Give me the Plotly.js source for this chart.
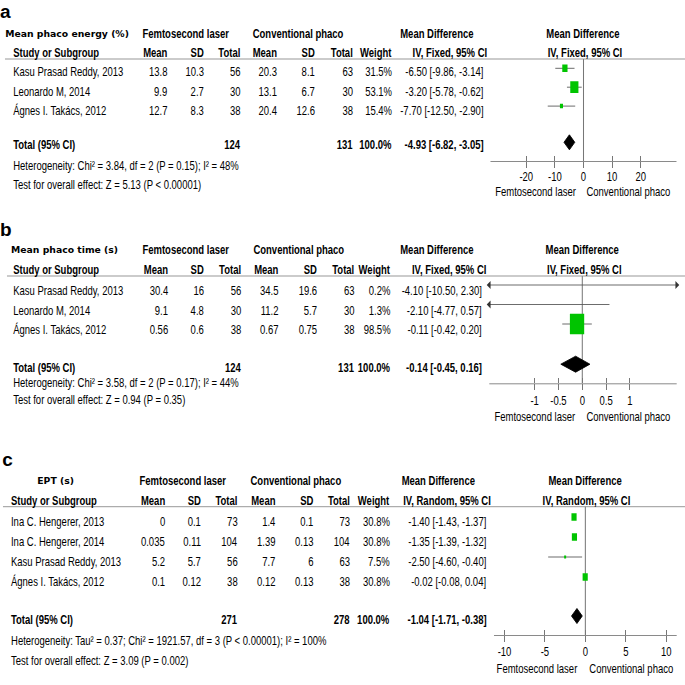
<!DOCTYPE html>
<html><head><meta charset="utf-8">
<script src="https://cdn.plot.ly/plotly-3.0.1.min.js"></script>
<style>
html,body{margin:0;padding:0;background:#fff;overflow:hidden;width:685px;height:685px}
#chart{width:938px;height:685px;transform:scaleX(0.730277);transform-origin:0 0}
</style>
</head><body><div id="chart"></div>
<script>
// ---------- DATA ----------
// Panel a: Mean phaco energy (%)
const studiesA = ['Kasu Prasad Reddy, 2013', 'Leonardo M, 2014', 'Ágnes I. Takács, 2012'];
const femMeanA = [13.8, 9.9, 12.7];
const femSdA = [10.3, 2.7, 8.3];
const femNA = [56, 30, 38];
const conMeanA = [20.3, 13.1, 20.4];
const conSdA = [8.1, 6.7, 12.6];
const conNA = [63, 30, 38];
const weightA = [31.5, 53.1, 15.4];
const mdA = [-6.50, -3.20, -7.70];
const loA = [-9.86, -5.78, -12.50];
const hiA = [-3.14, -0.62, -2.90];
const totalA = {fem: 124, con: 131, md: -4.93, lo: -6.82, hi: -3.05};
const hetA = 'Heterogeneity: Chi² = 3.84, df = 2 (P = 0.15); I² = 48%';
const testA = 'Test for overall effect: Z = 5.13 (P &lt; 0.00001)';
const tickValsA = [-20, -10, 0, 10, 20];
const tickTextA = ['-20', '-10', '0', '10', '20'];

// Panel b: Mean phaco time (s)
const studiesB = ['Kasu Prasad Reddy, 2013', 'Leonardo M, 2014', 'Ágnes I. Takács, 2012'];
const femMeanB = [30.4, 9.1, 0.56];
const femSdB = [16, 4.8, 0.6];
const femNB = [56, 30, 38];
const conMeanB = [34.5, 11.2, 0.67];
const conSdB = [19.6, 5.7, 0.75];
const conNB = [63, 30, 38];
const weightB = [0.2, 1.3, 98.5];
const mdB = [-4.10, -2.10, -0.11];
const loB = [-10.50, -4.77, -0.42];
const hiB = [2.30, 0.57, 0.20];
const totalB = {fem: 124, con: 131, md: -0.14, lo: -0.45, hi: 0.16};
const hetB = 'Heterogeneity: Chi² = 3.58, df = 2 (P = 0.17); I² = 44%';
const testB = 'Test for overall effect: Z = 0.94 (P = 0.35)';
const tickValsB = [-1, -0.5, 0, 0.5, 1];
const tickTextB = ['-1', '-0.5', '0', '0.5', '1'];

// Panel c: EPT (s)
const studiesC = ['Ina C. Hengerer, 2013', 'Ina C. Hengerer, 2014', 'Kasu Prasad Reddy, 2013', 'Ágnes I. Takács, 2012'];
const femMeanC = [0, 0.035, 5.2, 0.1];
const femSdC = [0.1, 0.11, 5.7, 0.12];
const femNC = [73, 104, 56, 38];
const conMeanC = [1.4, 1.39, 7.7, 0.12];
const conSdC = [0.1, 0.13, 6, 0.13];
const conNC = [73, 104, 63, 38];
const weightC = [30.8, 30.8, 7.5, 30.8];
const mdC = [-1.40, -1.35, -2.50, -0.02];
const loC = [-1.43, -1.39, -4.60, -0.08];
const hiC = [-1.37, -1.32, -0.40, 0.04];
const totalC = {fem: 271, con: 278, md: -1.04, lo: -1.71, hi: -0.38};
const hetC = 'Heterogeneity: Tau² = 0.37; Chi² = 1921.57, df = 3 (P &lt; 0.00001); I² = 100%';
const testC = 'Test for overall effect: Z = 3.09 (P = 0.002)';
const tickValsC = [-10, -5, 0, 5, 10];
const tickTextC = ['-10', '-5', '0', '5', '10'];

const colHeads = ['Mean', 'SD', 'Total', 'Mean', 'SD', 'Total'];

// ---------- LAYOUT HELPERS ----------
// Laid out 938px wide and compressed horizontally (CSS) to 685px, turning
// Liberation Sans into the condensed RevMan-like face of the reference.
const W = 685, H = 685, WD = 938, S = W / WD;
const NARROW = '"Liberation Sans", Arial, sans-serif';
const HEAD = '"DejaVu Sans", sans-serif';
const FS = 13;
const GREEN = '#00c400';
const GRAY = '#777';
const annotations = [], shapes = [], traces = [];
const wideIdx = new Set();
const px = x => x / W, py = y => 1 - y / H;
function txt(x, y, t, anchor, opts) {
  opts = opts || {};
  if (opts.wide) wideIdx.add(annotations.length);
  annotations.push({xref: 'paper', yref: 'paper', x: px(x), y: py(y), text: t, showarrow: false,
    xanchor: anchor, yanchor: 'middle', borderpad: 0, borderwidth: 0,
    font: {family: opts.family || NARROW, size: opts.size || FS, color: '#000'}});
}
const f2 = v => v.toFixed(2);
const ciTxt = (m, l, h) => f2(m) + ' [' + f2(l) + ', ' + f2(h) + ']';

const panels = [
  {letter: 'a', title: 'Mean phaco energy (%)', method: 'Fixed', studies: studiesA,
   cols: [femMeanA, femSdA, femNA, conMeanA, conSdA, conNA], weight: weightA, md: mdA, lo: loA, hi: hiA,
   total: totalA, het: hetA, test: testA, tickvals: tickValsA, ticktext: tickTextA,
   g: {letterX: 0, letterY: 12, titleX: 5, head1Y: 33.5, head2Y: 52, lineY: 59, lineX0: 5,
       nameX: 13, rowY: 72, step: 19, markY: 68.3, markStep: 18.9, totalY: 145, diaY: 142.3,
       hetY: 166, testY: 184, axisY: 161, dirY: 192, tickStand: -3,
       colX: [167, 204, 240, 277, 315, 353], wX: 392, ciX: 483.5, ciHX: 487,
       femC: 185.5, conC: 297.7, mdC: 436.7, plotC: 583, plotHC: 584.7, dirL: 535.5, dirR: 628.5,
       domain: [490.5, 676.5], range: [-32.5, 32.5], diaH: 15}},
  {letter: 'b', title: 'Mean phaco time (s)', method: 'Fixed', studies: studiesB,
   cols: [femMeanB, femSdB, femNB, conMeanB, conSdB, conNB], weight: weightB, md: mdB, lo: loB, hi: hiB,
   total: totalB, het: hetB, test: testB, tickvals: tickValsB, ticktext: tickTextB,
   g: {letterX: 0, letterY: 229, titleX: 11, head1Y: 249, head2Y: 269, lineY: 276, lineX0: 7,
       nameX: 13, rowY: 290.7, step: 19.3, markY: 285, markStep: 19.5, totalY: 367.7, diaY: 364.2,
       hetY: 382, testY: 400, axisY: 383.3, dirY: 416.5, tickStand: -1,
       colX: [168, 204, 240.7, 278, 316.7, 354], wX: 391, ciX: 482, ciHX: 486,
       femC: 186, conC: 299, mdC: 437, plotC: 582, plotHC: 584, dirL: 535, dirR: 628.3,
       domain: [489.3, 676.7], range: [-1.95, 1.98], diaH: 16}},
  {letter: 'c', title: 'EPT (s)', method: 'Random', studies: studiesC,
   cols: [femMeanC, femSdC, femNC, conMeanC, conSdC, conNC], weight: weightC, md: mdC, lo: loC, hi: hiC,
   total: totalC, het: hetC, test: testC, tickvals: tickValsC, ticktext: tickTextC,
   g: {letterX: 2, letterY: 459, titleX: 37, head1Y: 480, head2Y: 500, lineY: 506.7, lineX0: 3,
       nameX: 11, rowY: 521, step: 20, markY: 517, markStep: 20, totalY: 619.3, diaY: 616,
       hetY: 640.7, testY: 660, axisY: 635, dirY: 668, tickStand: -2,
       colX: [165, 201, 237, 275.3, 313.3, 350], wX: 390, ciX: 486, ciHX: 490.7,
       femC: 183, conC: 295.7, mdC: 438.3, plotC: 584.7, plotHC: 586.7, dirL: 537, dirR: 631,
       domain: [494, 676.7], range: [-11.3, 11.3], diaH: 15}}
];

const layout = {
  width: WD, height: H, margin: {l: 0, r: 0, t: 0, b: 0}, paper_bgcolor: '#fff', plot_bgcolor: 'rgba(0,0,0,0)',
  showlegend: false, hovermode: false,
  yaxis: {domain: [0, 1], range: [H, 0], visible: false, fixedrange: true}
};

panels.forEach((P, k) => {
  const g = P.g;
  const xa = k === 0 ? 'x' : 'x' + (k + 1);
  const xaOv = 'x' + (k + 4);
  const axKey = k === 0 ? 'xaxis' : 'xaxis' + (k + 1);
  const ovKey = 'xaxis' + (k + 4);
  layout[axKey] = {domain: [px(g.domain[0]), px(g.domain[1])], range: g.range, anchor: 'free', position: py(g.axisY),
    showline: true, linecolor: GRAY, linewidth: 1, ticks: 'outside', ticklen: 6, tickcolor: GRAY, tickwidth: 1.4,
    tickmode: 'array', tickvals: P.tickvals, ticktext: P.ticktext, ticklabelstandoff: g.tickStand,
    tickfont: {family: NARROW, size: FS, color: '#000'}, showgrid: false, zeroline: false, fixedrange: true};
  layout[ovKey] = {overlaying: xa, anchor: 'free', position: py(g.axisY), domain: [px(g.domain[0]), px(g.domain[1])],
    range: g.range, tickmode: 'array', tickvals: P.tickvals, ticks: 'inside', ticklen: 5, tickcolor: GRAY, tickwidth: 1.4,
    showticklabels: false, showline: false, showgrid: false, zeroline: false, fixedrange: true};
  traces.push({x: [0], y: [-50], xaxis: xaOv, yaxis: 'y', mode: 'markers', marker: {opacity: 0}, hoverinfo: 'skip'});

  // Text: headers
  txt(g.letterX, g.letterY, '<b>' + P.letter + '</b>', 'left', {size: 19, wide: true});
  txt(g.titleX, g.head1Y, '<b>' + P.title + '</b>', 'left', {family: HEAD, size: 9.3, wide: true});
  txt(g.femC, g.head1Y, '<b>Femtosecond laser</b>', 'center');
  txt(g.conC, g.head1Y, '<b>Conventional phaco</b>', 'center');
  txt(g.mdC, g.head1Y, '<b>Mean Difference</b>', 'center');
  txt(g.plotC, g.head1Y, '<b>Mean Difference</b>', 'center');
  txt(g.nameX, g.head2Y, '<b>Study or Subgroup</b>', 'left');
  colHeads.forEach((h, j) => txt(g.colX[j], g.head2Y, '<b>' + h + '</b>', 'right'));
  txt(g.wX, g.head2Y, '<b>Weight</b>', 'right');
  txt(g.ciHX, g.head2Y, '<b>IV, ' + P.method + ', 95% CI</b>', 'right');
  txt(g.plotHC, g.head2Y, '<b>IV, ' + P.method + ', 95% CI</b>', 'center');
  shapes.push({type: 'line', xref: 'paper', yref: 'paper', x0: px(g.lineX0), x1: 1, y0: py(g.lineY), y1: py(g.lineY),
    line: {color: '#888', width: 1}});

  // Rows
  P.studies.forEach((s, i) => {
    const ty = g.rowY + i * g.step;
    txt(g.nameX, ty, s, 'left');
    P.cols.forEach((c, j) => txt(g.colX[j], ty, String(c[i]), 'right'));
    txt(g.wX, ty, P.weight[i].toFixed(1) + '%', 'right');
    txt(g.ciX, ty, ciTxt(P.md[i], P.lo[i], P.hi[i]), 'right');

    // CI line (clipped to axis range, with arrows)
    const my = g.markY + i * g.markStep;
    const lo = Math.max(P.lo[i], g.range[0]), hi = Math.min(P.hi[i], g.range[1]);
    traces.push({x: [lo, hi], y: [my, my], xaxis: xa, yaxis: 'y', mode: 'lines',
      line: {color: '#555', width: 1}, hoverinfo: 'skip'});
    if (P.lo[i] < g.range[0]) traces.push({x: [g.range[0]], y: [my], xaxis: xa, yaxis: 'y', mode: 'markers',
      marker: {symbol: 'triangle-left', size: 7, color: '#333'}, hoverinfo: 'skip', cliponaxis: false});
    if (P.hi[i] > g.range[1]) traces.push({x: [g.range[1]], y: [my], xaxis: xa, yaxis: 'y', mode: 'markers',
      marker: {symbol: 'triangle-right', size: 7, color: '#333'}, hoverinfo: 'skip', cliponaxis: false});
    // weight box (screen width w, laid out in pre-compression pixels)
    const w = 1 + 0.135 * P.weight[i], h = 1.45 * w;
    shapes.push({type: 'rect', xref: xa, yref: 'y', xsizemode: 'pixel', xanchor: P.md[i], x0: -w / 2 / S, x1: w / 2 / S,
      y0: my - h / 2, y1: my + h / 2, fillcolor: GREEN, line: {width: 0}});
  });

  // Total row
  const T = P.total;
  txt(g.nameX, g.totalY, '<b>Total (95% CI)</b>', 'left');
  txt(g.colX[2], g.totalY, '<b>' + T.fem + '</b>', 'right');
  txt(g.colX[5], g.totalY, '<b>' + T.con + '</b>', 'right');
  txt(g.wX, g.totalY, '<b>100.0%</b>', 'right');
  txt(g.ciX, g.totalY, '<b>' + ciTxt(T.md, T.lo, T.hi) + '</b>', 'right');
  txt(g.nameX, g.hetY, P.het, 'left');
  txt(g.nameX, g.testY, P.test, 'left');

  // Diamond
  const d = g.diaH / 2;
  traces.push({x: [T.lo, T.md, T.hi, T.md, T.lo], y: [g.diaY, g.diaY - d, g.diaY, g.diaY + d, g.diaY],
    xaxis: xa, yaxis: 'y', mode: 'lines', fill: 'toself', fillcolor: '#000', line: {color: '#000', width: 1}, hoverinfo: 'skip'});

  // Zero line
  shapes.push({type: 'line', xref: xa, yref: 'y', x0: 0, x1: 0, y0: g.lineY, y1: g.axisY, layer: 'below',
    line: {color: GRAY, width: 1.4}});

  // Direction labels
  txt(g.dirL, g.dirY, 'Femtosecond laser', 'center');
  txt(g.dirR, g.dirY, 'Conventional phaco', 'center');
});

layout.annotations = annotations;
layout.shapes = shapes;
Plotly.newPlot('chart', traces, layout, {staticPlot: true, displayModeBar: false}).then(gd => {
  // panel letters and bold titles keep their natural (uncompressed) width
  gd.querySelectorAll('g.annotation').forEach(node => {
    if (!wideIdx.has(+node.getAttribute('data-index'))) return;
    const t = node.querySelector('text');
    if (!t) return;
    t.style.transformBox = 'fill-box';
    t.style.transformOrigin = 'left center';
    t.style.transform = 'scaleX(' + (1 / S) + ')';
  });
});
</script>
</body></html>
